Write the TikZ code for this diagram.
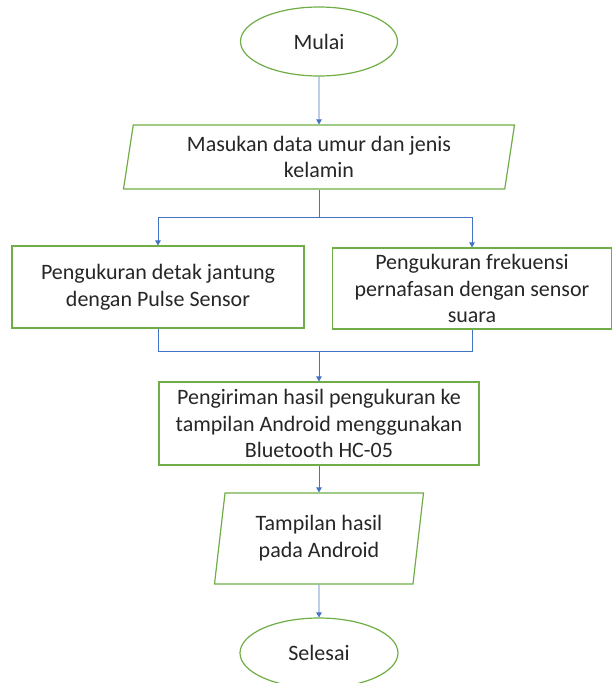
\documentclass[tikz,border=0pt]{standalone}
\usepackage{fontspec}
\setmainfont{Carlito}
\usetikzlibrary{shapes.geometric,arrows.meta}
\definecolor{boxgreen}{RGB}{112,173,71}
\definecolor{linkblue}{RGB}{68,114,196}
\begin{document}
\begin{tikzpicture}[x=1pt,y=-1pt,
  font=\fontsize{22}{26.8}\selectfont,
  every node/.style={text=black!85,align=center},
  terminal/.style={ellipse,draw=boxgreen,line width=1.2pt,inner sep=0pt},
  inout/.style={trapezium,trapezium left angle=77,trapezium right angle=103,
    trapezium stretches body,draw=boxgreen,line width=1.2pt,inner sep=0pt},
  process/.style={rectangle,draw=boxgreen,line width=1.2pt,inner sep=0pt},
  link/.style={draw=linkblue,line width=0.8pt},
  flow/.style={link,-{Triangle[length=5pt,width=5.5pt]}}]
\useasboundingbox (0,0) rectangle (613,683);

\node[terminal,minimum width=157pt,minimum height=69pt] (mulai) at (319,41.5) {Mulai};
\node[inout,minimum width=391pt,minimum height=64pt] (masukan) at (319,157)
  {Masukan data umur dan jenis\\kelamin};

\node[process,minimum width=292pt,minimum height=82pt] (jantung) at (158,287)
  {Pengukuran detak jantung\\dengan Pulse Sensor};
\node[process,minimum width=279pt,minimum height=81pt] (nafas) at (472,288.5)
  {Pengukuran frekuensi\\pernafasan dengan sensor\\suara};

\node[process,minimum width=320pt,minimum height=83pt] (kirim) at (319,423.5)
  {Pengiriman hasil pengukuran ke\\tampilan Android menggunakan\\Bluetooth HC-05};
\node[inout,minimum width=209pt,minimum height=91pt] (tampil) at (319,538.5)
  {Tampilan hasil\\pada Android};
\node[terminal,minimum width=158pt,minimum height=70pt] (selesai) at (319,653) {Selesai};

\coordinate (cabang) at (319,217);
\coordinate (gabung) at (319,351);

\draw[flow] (mulai) -- (masukan);
\draw[link] (masukan) -- (cabang);
\draw[flow] (cabang) -| (jantung.north);
\draw[flow] (cabang) -| (nafas.north);
\draw[link] (jantung.south) |- (gabung);
\draw[link] (nafas.south) |- (gabung);
\draw[flow] (gabung) -- (kirim);
\draw[flow] (kirim) -- (tampil);
\draw[flow] (tampil) -- (selesai);

\end{tikzpicture}
\end{document}
